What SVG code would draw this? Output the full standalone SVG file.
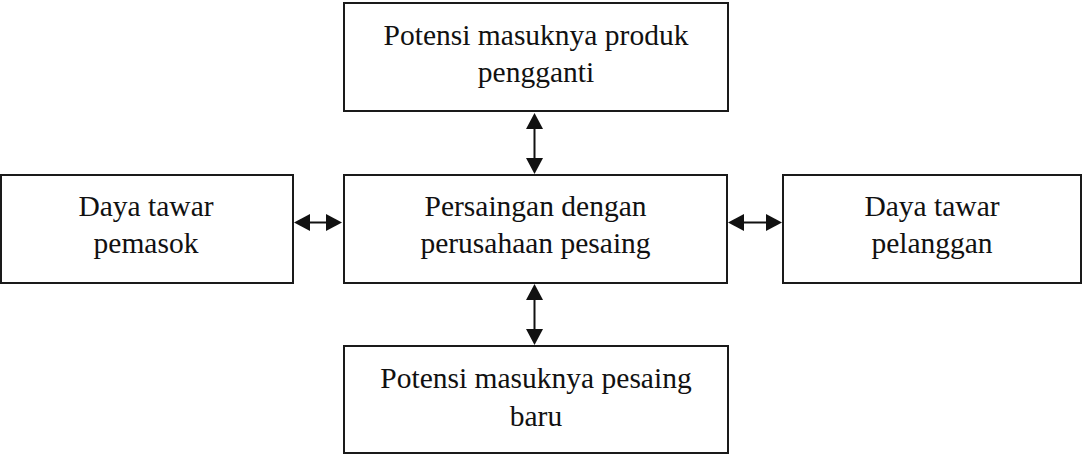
<svg xmlns="http://www.w3.org/2000/svg" width="1088" height="455" viewBox="0 0 1088 455">
<style>
.box{fill:#fff;stroke:#1a1a1a;stroke-width:2}
.lbl{font-family:"Liberation Serif","Times New Roman",serif;font-size:29.5px;fill:#111;text-anchor:middle}
.con{stroke:#111;stroke-width:2;fill:none;marker-start:url(#ah);marker-end:url(#ah)}
</style>
<defs>
<marker id="ah" viewBox="0 0 16 17" refX="8" refY="8.5" markerWidth="16" markerHeight="17" markerUnits="userSpaceOnUse" orient="auto-start-reverse">
<path d="M0,0 L16,8.5 L0,17 z" fill="#111"/>
</marker>
</defs>
<rect width="1088" height="455" fill="#fff"/>
<g id="node-top">
<rect class="box" x="344" y="3" width="384" height="108"/>
<text class="lbl" x="536" y="45">Potensi masuknya produk</text>
<text class="lbl" x="536" y="82">pengganti</text>
</g>
<g id="node-center">
<rect class="box" x="344" y="175" width="383" height="108"/>
<text class="lbl" x="535.5" y="216">Persaingan dengan</text>
<text class="lbl" x="535.5" y="253">perusahaan pesaing</text>
</g>
<g id="node-left">
<rect class="box" x="1" y="175" width="292" height="108"/>
<text class="lbl" x="146" y="216">Daya tawar</text>
<text class="lbl" x="146" y="253">pemasok</text>
</g>
<g id="node-right">
<rect class="box" x="783" y="175" width="298" height="108"/>
<text class="lbl" x="932" y="216">Daya tawar</text>
<text class="lbl" x="932" y="253">pelanggan</text>
</g>
<g id="node-bottom">
<rect class="box" x="344" y="346" width="384" height="107"/>
<text class="lbl" x="536" y="388">Potensi masuknya pesaing</text>
<text class="lbl" x="536" y="426">baru</text>
</g>
<g id="connectors">
<line class="con" x1="534.5" y1="121" x2="534.5" y2="166"/>
<line class="con" x1="534.5" y1="292" x2="534.5" y2="337"/>
<line class="con" x1="302" y1="222.5" x2="334" y2="222.5"/>
<line class="con" x1="736" y1="222.5" x2="774" y2="222.5"/>
</g>
</svg>
